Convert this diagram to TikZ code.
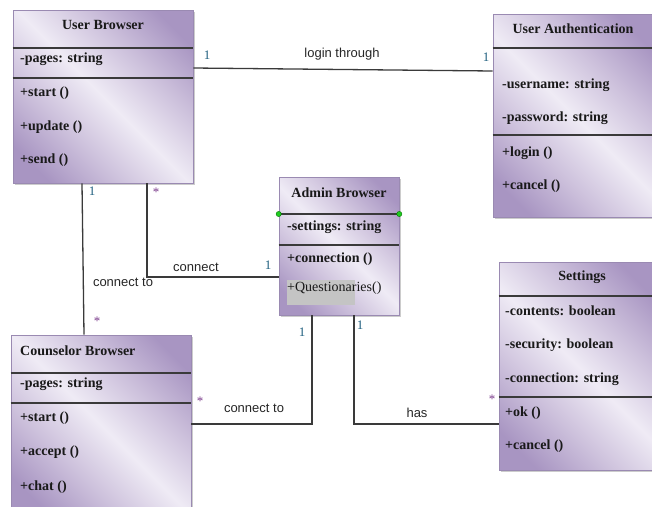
\documentclass[tikz,border=0pt]{standalone}
\usepackage{fontspec}
\setmainfont{Liberation Serif}
\newfontfamily\labelfont{Liberation Sans}
\usetikzlibrary{calc,shadows}

\definecolor{umldark}{HTML}{A895C2}
\definecolor{umlmid}{HTML}{CDC1DC}
\definecolor{umllight}{HTML}{EFEBF5}
\definecolor{umlborder}{HTML}{9A8AB2}
\definecolor{lineclr}{HTML}{3A3A3A}
\definecolor{multone}{HTML}{1E5E7E}
\definecolor{multstar}{HTML}{7A3A8A}
\definecolor{hlgrey}{HTML}{C4C4C4}
\definecolor{dotgreen}{HTML}{1FCC1F}

\pgfdeclarehorizontalshading{umlshade}{100bp}{color(0bp)=(umldark); color(22bp)=(umldark); color(36bp)=(umlmid); color(50bp)=(umllight); color(64bp)=(umlmid); color(78bp)=(umldark); color(100bp)=(umldark)}

\begin{document}
\begin{tikzpicture}[x=1pt,y=-1pt,
  classbox/.style={draw=umlborder, line width=0.6pt, shading=umlshade, shading angle=45,
    inner sep=0pt, rectangle, drop shadow={shadow xshift=1.5pt, shadow yshift=-1.5pt, fill=black, opacity=0.2}},
  sep/.style={draw=lineclr, line width=1.6pt},
  title/.style={font=\fontsize{14}{16}\selectfont\bfseries, inner sep=0pt, text=black!90},
  member/.style={font=\fontsize{14}{16}\selectfont\bfseries, anchor=west, inner sep=0pt, text=black!90},
  conn/.style={draw=lineclr, line width=1.3pt},
  lbl/.style={font=\labelfont\fontsize{13}{15}\selectfont, inner sep=0pt, text=black!85},
  one/.style={font=\fontsize{13}{14}\selectfont, text=multone, inner sep=0pt},
  star/.style={font=\fontsize{13}{14}\selectfont, text=multstar, inner sep=0pt}]

\useasboundingbox (0,0) rectangle (652,506);

% class boxes
\node[classbox, minimum width=180pt, minimum height=173pt] (ub) at (103,96.5) {};
\node[classbox, minimum width=162pt, minimum height=203pt] (ua) at (574,115.5) {};
\node[classbox, minimum width=120pt, minimum height=138pt] (ab) at (339,246) {};
\node[classbox, minimum width=180pt, minimum height=180pt] (cb) at (101,425) {};
\node[classbox, minimum width=158pt, minimum height=208pt] (st) at (578,366) {};

% highlight
\fill[hlgrey] (287,280) rectangle (355,305);

% separators
\draw[sep] (ub.west |- 0,48) -- (ub.east |- 0,48);
\draw[sep] (ub.west |- 0,78) -- (ub.east |- 0,78);
\draw[sep] (ua.west |- 0,48) -- (ua.east |- 0,48);
\draw[sep] (ua.west |- 0,135) -- (ua.east |- 0,135);
\draw[sep] (ab.west |- 0,214) -- (ab.east |- 0,214);
\draw[sep] (ab.west |- 0,245) -- (ab.east |- 0,245);
\draw[sep] (cb.west |- 0,373) -- (cb.east |- 0,373);
\draw[sep] (cb.west |- 0,403) -- (cb.east |- 0,403);
\draw[sep] (st.west |- 0,296) -- (st.east |- 0,296);
\draw[sep] (st.west |- 0,397) -- (st.east |- 0,397);

\fill[dotgreen, draw=green!45!black, line width=0.4pt] (ab.west |- 0,214) circle (2.6pt);
\fill[dotgreen, draw=green!45!black, line width=0.4pt] (ab.east |- 0,214) circle (2.6pt);

% User Browser
\node[title] (ubt) at (103,25) {User Browser};
\node[member] (ub1) at (20,59) {-pages: string};
\node[member] (ub2) at (20,93) {+start ()};
\node[member] (ub3) at (20,127) {+update ()};
\node[member] (ub4) at (20,160) {+send ()};

% User Authentication
\node[title] (uat) at (573,29) {User Authentication};
\node[member] (ua1) at (502,85) {-username: string};
\node[member] (ua2) at (502,118) {-password: string};
\node[member] (ua3) at (502,153) {+login ()};
\node[member] (ua4) at (502,186) {+cancel ()};

% Admin Browser
\node[title] (abt) at (339,193) {Admin Browser};
\node[member] (ab1) at (287,227) {-settings: string};
\node[member] (ab2) at (287,259) {+connection ()};
\node[member, font=\fontsize{14}{16}\selectfont] (ab3) at (287,288) {+Questionaries()};

% Counselor Browser
\node[member] (cbt) at (20,351) {Counselor Browser};
\node[member] (cb1) at (20,384) {-pages: string};
\node[member] (cb2) at (20,418) {+start ()};
\node[member] (cb3) at (20,452) {+accept ()};
\node[member] (cb4) at (20,487) {+chat ()};

% Settings
\node[title] (stt) at (582,277) {Settings};
\node[member] (st1) at (505,311) {-contents: boolean};
\node[member] (st2) at (505,345) {-security: boolean};
\node[member] (st3) at (505,379) {-connection: string};
\node[member] (st4) at (505,413) {+ok ()};
\node[member] (st5) at (505,446) {+cancel ()};

% connectors
\draw[conn] (ub.east |- 0,68) -- (ua.west |- 0,71);
\draw[conn] (ub.south -| 82,0) -- (cb.north -| 84,0);
\draw[conn] (ub.south -| 147,0) |- (ab.west |- 0,277);
\draw[conn] (cb.east |- 0,424) -| (ab.south -| 312,0);
\draw[conn] (ab.south -| 354,0) |- (st.west |- 0,424);

% labels
\node[one] (m1) at (207,55) {1};
\node[one] (m2) at (486,57) {1};
\node[lbl] (l1) at (342,54) {login through};

\node[one] (m3) at (92,191) {1};
\node[star] (m4) at (97,321) {*};
\node[lbl] (l2) at (123,282) {connect to};

\node[star] (m5) at (156,192) {*};
\node[lbl] (l3) at (196,267) {connect};
\node[one] (m6) at (268,265) {1};

\node[star] (m7) at (200,401) {*};
\node[lbl] (l4) at (254,408) {connect to};
\node[one] (m8) at (302,332) {1};

\node[one] (m9) at (360,325) {1};
\node[lbl] (l5) at (417,413) {has};
\node[star] (m10) at (492,399) {*};
\end{tikzpicture}
\end{document}
